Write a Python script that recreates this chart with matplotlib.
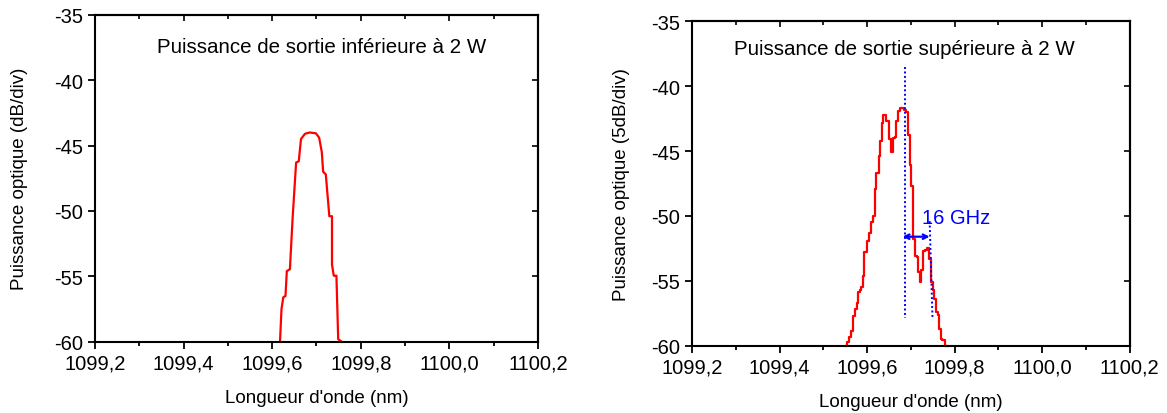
import matplotlib
matplotlib.use("Agg")
import matplotlib.pyplot as plt
from matplotlib.ticker import MultipleLocator, FuncFormatter, NullFormatter

plt.rcParams['font.family'] = ['Liberation Sans', 'DejaVu Sans']
plt.rcParams['axes.unicode_minus'] = False

# spectre, puissance < 2 W
wl_low = [1099.6176, 1099.621, 1099.625, 1099.630, 1099.633, 1099.640, 1099.646,
          1099.654, 1099.660, 1099.665, 1099.674, 1099.685, 1099.699, 1099.706,
          1099.712, 1099.715, 1099.721, 1099.727, 1099.729, 1099.735, 1099.735,
          1099.739, 1099.745, 1099.749, 1099.757]
db_low = [-60.0, -57.5, -56.6, -56.5, -54.6, -54.45, -50.6,
          -46.3, -46.2, -44.5, -44.1, -44.0, -44.07, -44.4,
          -45.5, -47.0, -47.2, -49.6, -50.4, -50.4, -54.1,
          -54.95, -54.95, -59.8, -60.0]

# spectre, puissance > 2 W (trace en escalier)
wl_high = [1099.552, 1099.555, 1099.559, 1099.563, 1099.567, 1099.572, 1099.576,
           1099.579, 1099.583, 1099.587, 1099.591, 1099.594, 1099.599, 1099.605,
           1099.610, 1099.614, 1099.618, 1099.620, 1099.628, 1099.629, 1099.633,
           1099.635, 1099.637, 1099.643, 1099.650, 1099.654, 1099.659, 1099.664,
           1099.667, 1099.671, 1099.676, 1099.685, 1099.690, 1099.694, 1099.698,
           1099.699, 1099.701, 1099.704, 1099.705, 1099.709, 1099.713, 1099.717,
           1099.720, 1099.724, 1099.728, 1099.732, 1099.738, 1099.742, 1099.746,
           1099.750, 1099.752, 1099.757, 1099.761, 1099.765, 1099.768, 1099.772,
           1099.778, 1099.781, 1099.786]
db_high = [-60.0, -59.7, -59.3, -58.9, -57.7, -57.2, -56.7,
           -55.9, -55.7, -55.5, -54.6, -52.8, -51.9, -51.3,
           -50.5, -50.0, -47.9, -46.7, -45.4, -44.2, -43.3,
           -42.8, -42.2, -42.7, -44.1, -45.1, -44.0, -43.9,
           -42.7, -41.9, -41.7, -41.8, -42.0, -43.8, -44.8,
           -46.1, -47.7, -48.7, -51.8, -53.1, -53.2, -54.3,
           -55.1, -54.2, -52.7, -52.6, -52.5, -53.3, -55.1,
           -55.7, -56.4, -57.4, -57.6, -58.7, -59.5, -59.6,
           -60.0, -60.0, -60.0]

# repères bleus
line1_wl = [1099.686, 1099.686]
line1_db = [-38.5, -57.9]
line2_wl = [1099.743, 1099.7495]
line2_db = [-50.4, -57.9]
arrow_wl = [1099.681, 1099.743]
arrow_db = -51.6

xticks = [1099.2, 1099.4, 1099.6, 1099.8, 1100.0, 1100.2]
yticks = [-60, -55, -50, -45, -40, -35]

fig = plt.figure(figsize=(11.67, 4.14), dpi=100)
ax1 = fig.add_axes([0.0814, 0.172, 0.3796, 0.790])
ax2 = fig.add_axes([0.593, 0.1626, 0.375, 0.7835])

comma = FuncFormatter(lambda v, p: ("%.1f" % v).replace(".", ","))

for ax in (ax1, ax2):
    ax.set_xlim(1099.2, 1100.2)
    ax.set_ylim(-60, -35)
    ax.set_xticks(xticks)
    ax.set_yticks(yticks)
    ax.xaxis.set_major_formatter(comma)
    ax.xaxis.set_minor_locator(MultipleLocator(0.1))
    ax.tick_params(axis='both', which='major', labelsize=14.5, length=5, width=1.3, direction='out')
    ax.tick_params(axis='x', which='minor', length=3, width=1.3, direction='out')
    for s in ax.spines.values():
        s.set_linewidth(1.5)
    ax.set_xlabel("Longueur d'onde (nm)", fontsize=13.5, labelpad=12)

    top = ax.secondary_xaxis('top')
    top.set_xticks(xticks)
    top.xaxis.set_minor_locator(MultipleLocator(0.1))
    top.xaxis.set_major_formatter(NullFormatter())
    top.tick_params(which='major', direction='in', length=4, width=1.2)
    top.tick_params(which='minor', direction='in', length=3, width=1.2)
    top.spines['top'].set_linewidth(1.5)

    right = ax.secondary_yaxis('right')
    right.set_yticks(yticks)
    right.yaxis.set_major_formatter(NullFormatter())
    right.tick_params(which='major', direction='in', length=4, width=1.2)
    right.spines['right'].set_linewidth(1.5)

ax1.set_ylabel("Puissance optique (dB/div)", fontsize=13.5, labelpad=19)
ax2.set_ylabel("Puissance optique (5dB/div)", fontsize=13.5, labelpad=15)

ax1.plot(wl_low, db_low, color='red', lw=1.6, clip_on=False)
ax1.text(0.512, 0.904, "Puissance de sortie inférieure à 2 W", transform=ax1.transAxes,
         ha='center', va='center', fontsize=14.8)

ax2.plot(wl_high, db_high, color='red', lw=1.6, drawstyle='steps-post', clip_on=False)
ax2.plot(line1_wl, line1_db, color='blue', lw=1.4, ls=(0, (1, 1.3)))
ax2.plot(line2_wl, line2_db, color='blue', lw=1.4, ls=(0, (1, 1.3)))
ax2.annotate("", xy=(arrow_wl[0], arrow_db), xytext=(arrow_wl[1], arrow_db),
             arrowprops=dict(arrowstyle='<->', color='blue', lw=1.6,
                             mutation_scale=8, shrinkA=0, shrinkB=0))
ax2.text(1099.7245, -50.1, "16 GHz", color='blue', fontsize=14.5, ha='left', va='center')
ax2.text(0.486, 0.915, "Puissance de sortie supérieure à 2 W", transform=ax2.transAxes,
         ha='center', va='center', fontsize=14.8)

fig.savefig("out.png", dpi=100)
